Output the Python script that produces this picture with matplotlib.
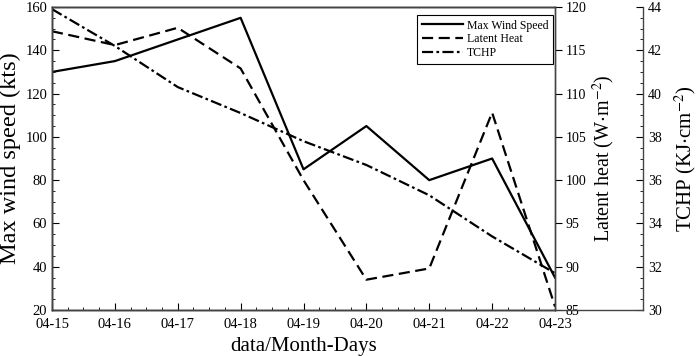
import matplotlib.pyplot as plt
from matplotlib.ticker import MultipleLocator
from matplotlib.lines import Line2D

plt.rcParams["font.family"] = ["Liberation Serif", "DejaVu Serif"]
plt.rcParams["mathtext.fontset"] = "stix"

days = ["04-15", "04-16", "04-17", "04-18", "04-19", "04-20", "04-21", "04-22", "04-23"]
wind = [130, 135, 145, 155, 85, 105, 80, 90, 35]
latent = [117.2, 115.6, 117.6, 112.9, 100.0, 88.5, 89.8, 107.8, 85.4]
tchp = [43.9, 42.2, 40.3, 39.1, 37.8, 36.7, 35.3, 33.4, 31.7]

x = list(range(len(days)))

fig = plt.figure(figsize=(7, 3.56), dpi=100)
ax = fig.add_axes([52 / 700, 46 / 356, 503 / 700, 303 / 356])
ax2 = ax.twinx()
ax3 = ax.twinx()

l1, = ax.plot(x, wind, color="black", lw=1.6, label="Max Wind Speed")
l2, = ax2.plot(x, latent, color="black", lw=1.6, ls=(0, (5, 2.5)), label="Latent Heat")
l3, = ax3.plot(x, tchp, color="black", lw=1.6, ls=(0, (5, 1.5, 1.2, 1.5)), label="TCHP")

ax.set_xlim(0, 8)
ax.set_ylim(20, 160)
ax2.set_ylim(85, 120)
ax3.set_ylim(30, 44)

ax.set_xticks(x)
ax.set_xticklabels(days)
ax.xaxis.set_minor_locator(MultipleLocator(0.25))
ax.yaxis.set_major_locator(MultipleLocator(20))
ax.yaxis.set_minor_locator(MultipleLocator(5))
ax.tick_params(which="both", direction="in", top=False, labelsize=10.5)
ax.tick_params(which="major", length=5)
ax.tick_params(which="minor", length=2.5)
ax.tick_params(axis="x", pad=6)

ax2.yaxis.set_major_locator(MultipleLocator(5))
ax2.tick_params(which="major", direction="out", length=5, labelsize=10, pad=2.5)

# third axis sits 88 px to the right of the main frame
ax3.spines["right"].set_position(("outward", 88 * 72 / 100))
ax3.yaxis.set_major_locator(MultipleLocator(2))
ax3.yaxis.set_minor_locator(MultipleLocator(0.5))
ax3.tick_params(which="both", direction="in", labelsize=10)
ax3.tick_params(which="major", length=5)
ax3.tick_params(which="minor", length=2.5)

for a in (ax, ax2, ax3):
    for s in a.spines.values():
        s.set_color("#444444")
        s.set_linewidth(1.0)

fig.add_artist(Line2D([555 / 700, 643 / 700], [46 / 356, 46 / 356], color="#444444", lw=1.0))

ax.set_xlabel("data/Month-Days", fontsize=15)
ax.set_ylabel("Max wind speed (kts)", fontsize=17.5, labelpad=3)
ax2.set_ylabel("Latent heat (W$\\cdot$m$^{-2}$)", fontsize=14.5, labelpad=3)
ax3.set_ylabel("TCHP (KJ$\\cdot$cm$^{-2}$)", fontsize=15, labelpad=8)

leg = ax.legend(handles=[l1, l2, l3], loc="upper right", fontsize=8.5, fancybox=False,
                edgecolor="black", framealpha=1, borderpad=0.4, labelspacing=0.15,
                handlelength=3.5, handletextpad=0.3, borderaxespad=0,
                bbox_to_anchor=(0.996, 0.974))
leg.get_frame().set_linewidth(0.8)

plt.savefig("out.png")
